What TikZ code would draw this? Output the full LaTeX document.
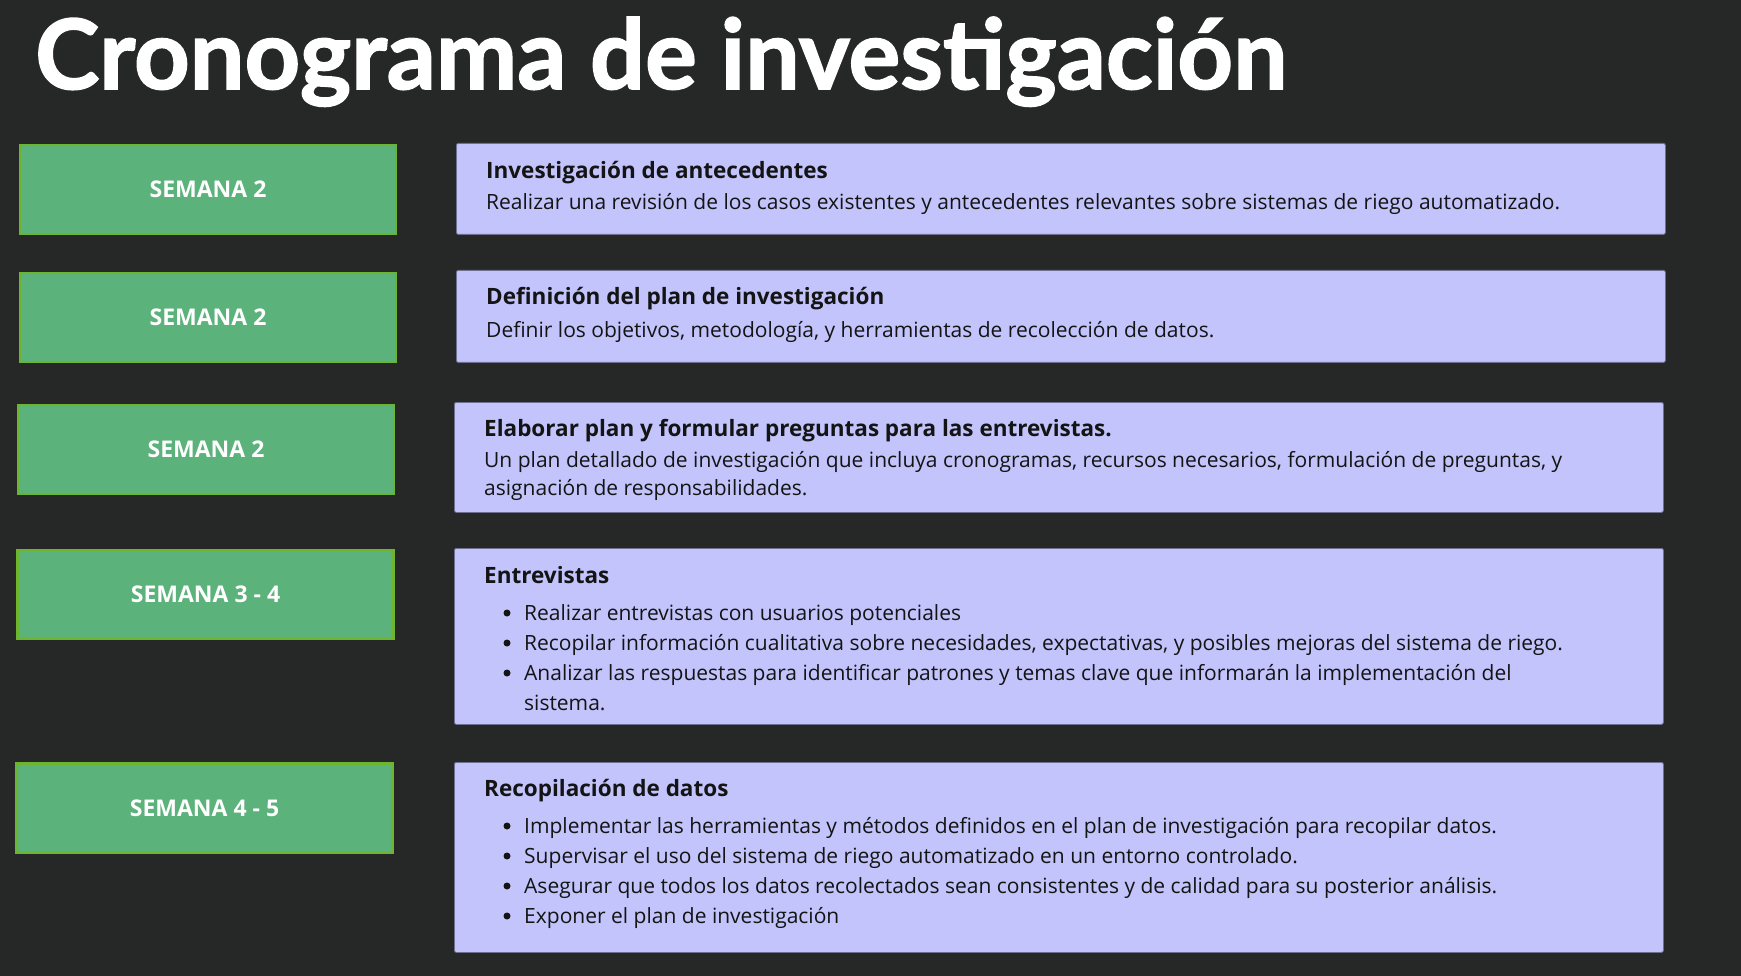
\documentclass[tikz,border=0pt]{standalone}
\usepackage{fontspec}
\setmainfont{Open Sans}
\newfontfamily\headfont[BoldFeatures={FakeBold=1.6}]{Lato}
\usetikzlibrary{positioning}
\definecolor{bgdark}{HTML}{262828}
\definecolor{weekgreen}{HTML}{5CB27B}
\definecolor{weekedge}{HTML}{6DB52E}
\definecolor{taskfill}{HTML}{C2C4FB}
\definecolor{taskedge}{HTML}{6E7090}
\definecolor{inkdark}{HTML}{141414}

\begin{document}
\begin{tikzpicture}[x=1pt,y=-1pt,
  weekbox/.style={draw=weekedge, line width=2.2pt, fill=weekgreen, minimum width=376pt,
    minimum height=89pt, inner sep=0pt, text=white, font=\fontsize{23}{26}\selectfont\bfseries},
  taskbox/.style={draw=taskedge, line width=0.8pt, fill=taskfill, rounded corners=2pt,
    anchor=north west, inner sep=0pt, minimum width=1209pt},
  tasktitle/.style={anchor=base west, inner sep=0pt, text=inkdark,
    font=\fontsize{22.5}{26}\selectfont\bfseries},
  taskline/.style={anchor=base west, inner sep=0pt, text=inkdark,
    font=\fontsize{21}{24}\selectfont},
  bullet/.style={circle, fill=inkdark, inner sep=0pt, minimum size=7pt}]
\fill[bgdark] (0,0) rectangle (1741,976);
\useasboundingbox (0,0) rectangle (1741,976);

% title
\node[anchor=base west, inner sep=0pt, text=white, font=\headfont\fontsize{97}{100}\selectfont\bfseries]
  (title) at (35,89) {Cronograma de investigación};

% week labels
\node[weekbox] (w1) at (208,189.5) {SEMANA 2};
\node[weekbox] (w2) at (208,317.5) {SEMANA 2};
\node[weekbox] (w3) at (206,449.5) {SEMANA 2};
\node[weekbox] (w4) at (205.5,594.5) {SEMANA 3 - 4};
\node[weekbox] (w5) at (204.5,808) {SEMANA 4 - 5};

% task boxes
\node[taskbox, minimum height=91pt] (t1) at (456,143) {};
\node[taskbox, minimum height=92pt] (t2) at (456,270) {};
\node[taskbox, minimum height=110pt] (t3) at (454,402) {};
\node[taskbox, minimum height=176pt] (t4) at (454,548) {};
\node[taskbox, minimum height=190pt] (t5) at (454,762) {};

% task 1
\node[tasktitle] (t1a) at (486,179) {Investigación de antecedentes};
\node[taskline] (t1b) at (486,210) {Realizar una revisión de los casos existentes y antecedentes relevantes sobre sistemas de riego automatizado.};

% task 2
\node[tasktitle] (t2a) at (486,305) {Definición del plan de investigación};
\node[taskline] (t2b) at (486,338) {Definir los objetivos, metodología, y herramientas de recolección de datos.};

% task 3
\node[tasktitle] (t3a) at (484,436) {Elaborar plan y formular preguntas para las entrevistas.};
\node[taskline] (t3b) at (484,467) {Un plan detallado de investigación que incluya cronogramas, recursos necesarios, formulación de preguntas, y};
\node[taskline] (t3c) at (484,495) {asignación de responsabilidades.};

% task 4
\node[tasktitle] (t4a) at (484,583) {Entrevistas};
\foreach \y/\txt [count=\i] in {620/Realizar entrevistas con usuarios potenciales,
    650/{Recopilar información cualitativa sobre necesidades, expectativas, y posibles mejoras del sistema de riego.},
    680/Analizar las respuestas para identificar patrones y temas clave que informarán la implementación del}{
  \node[bullet] (b4\i) at (507,\y-7) {};
  \node[taskline] (t4\i) at (524,\y) {\txt};
}
\node[taskline] (t4x) at (524,710) {sistema.};

% task 5
\node[tasktitle] (t5a) at (484,796) {Recopilación de datos};
\foreach \y/\txt [count=\i] in {833/Implementar las herramientas y métodos definidos en el plan de investigación para recopilar datos.,
    863/Supervisar el uso del sistema de riego automatizado en un entorno controlado.,
    893/Asegurar que todos los datos recolectados sean consistentes y de calidad para su posterior análisis.,
    923/Exponer el plan de investigación}{
  \node[bullet] (b5\i) at (507,\y-7) {};
  \node[taskline] (t5\i) at (524,\y) {\txt};
}
\end{tikzpicture}
\end{document}
